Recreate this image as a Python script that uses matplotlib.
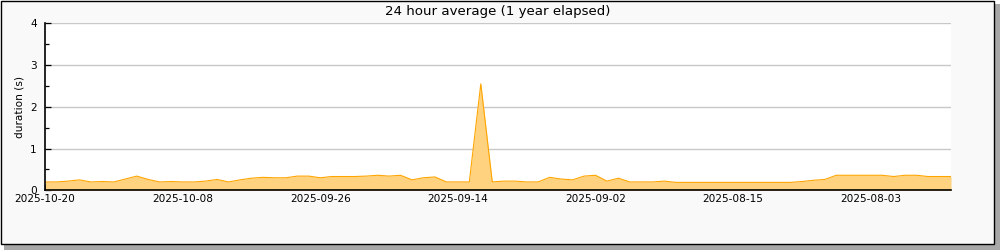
import matplotlib
matplotlib.use("Agg")
import matplotlib.pyplot as plt
from matplotlib.patches import Rectangle
import numpy as np

# day offsets back from the newest sample (left = newest)
days = list(range(80))
durations = [
    0.20, 0.20, 0.22, 0.25, 0.20, 0.21, 0.20, 0.27, 0.34, 0.26,
    0.20, 0.21, 0.20, 0.20, 0.22, 0.26, 0.20, 0.25, 0.29, 0.31,
    0.30, 0.30, 0.34, 0.34, 0.30, 0.33, 0.33, 0.33, 0.34, 0.36,
    0.34, 0.36, 0.25, 0.30, 0.32, 0.20, 0.20, 0.20, 2.55, 0.20,
    0.22, 0.22, 0.20, 0.20, 0.31, 0.27, 0.25, 0.34, 0.36, 0.22,
    0.29, 0.20, 0.20, 0.20, 0.22, 0.19, 0.19, 0.19, 0.19, 0.19,
    0.19, 0.19, 0.19, 0.19, 0.19, 0.19, 0.21, 0.24, 0.26, 0.36,
    0.36, 0.36, 0.36, 0.36, 0.33, 0.36, 0.36, 0.33, 0.33, 0.33,
]
major_tick_days = [0, 12, 24, 36, 48, 60, 72]
major_tick_labels = ["2025-10-20", "2025-10-08", "2025-09-26", "2025-09-14",
                     "2025-09-02", "2025-08-15", "2025-08-03"]
minor_tick_days = [6, 18, 30, 42, 54, 66, 78]
y_ticks = [0, 1, 2, 3, 4]
y_minor = [0.5, 1.5, 2.5, 3.5]

fig = plt.figure(figsize=(10, 2.5), dpi=100)
fig.patch.set_facecolor("white")

# shadow and frame
W, H = 1000.0, 250.0
fig.patches.append(Rectangle((4 / W, 0), 996 / W, 246 / H, transform=fig.transFigure,
                             facecolor="#a8a8a8", edgecolor="none", zorder=0))
fig.patches.append(Rectangle((0.5 / W, 6 / H), 993.5 / W, 243.5 / H, transform=fig.transFigure,
                             facecolor="#f9f9f9", edgecolor="black", linewidth=1.0, zorder=1))

ax = fig.add_axes([45 / W, 59.7 / H, 906 / W, 167 / H])
ax.set_zorder(10)
ax.set_facecolor("white")
ax.fill_between(days, durations, 0, color="#ffd27f", linewidth=0, zorder=2)
ax.plot(days, durations, color="#ffa500", linewidth=0.8, zorder=3)

ax.set_xlim(0, 79)
ax.set_ylim(0, 4)
ax.set_xticks(major_tick_days)
ax.set_xticklabels(major_tick_labels)
ax.set_xticks(minor_tick_days, minor=True)
ax.set_yticks(y_ticks)
ax.set_yticks(y_minor, minor=True)

for s in ["top", "right"]:
    ax.spines[s].set_visible(False)
for s in ["left", "bottom"]:
    ax.spines[s].set_linewidth(1.2)
    ax.spines[s].set_zorder(5)

ax.tick_params(axis="x", which="both", direction="in", length=4.5, width=0.9,
               labelsize=7.6, pad=3, colors="black")
ax.tick_params(axis="y", which="major", direction="in", length=4, width=0.9,
               labelsize=7.6, pad=6)
ax.tick_params(axis="y", which="minor", direction="in", length=3, width=0.9)

ax.grid(axis="y", which="major", color="#c8c8c8", linewidth=1.0, zorder=1)
ax.set_axisbelow(True)

ax.set_ylabel("duration (s)", fontsize=7.6, labelpad=4)
fig.text(498 / W, 1 - 11 / H, "24 hour average (1 year elapsed)", ha="center",
         va="center", fontsize=9.6, zorder=20)

fig.savefig("out.png", dpi=100, facecolor=fig.get_facecolor())
